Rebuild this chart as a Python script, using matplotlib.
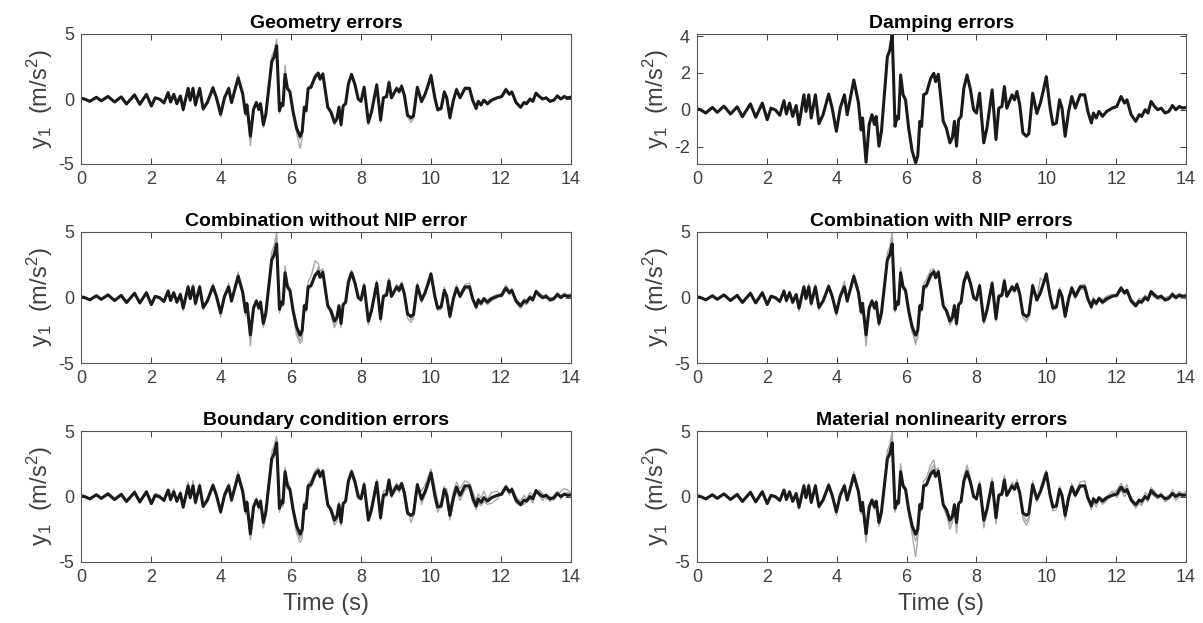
import numpy as np
import matplotlib
matplotlib.use("Agg")
import matplotlib.pyplot as plt

plt.rcParams['font.family'] = ['Liberation Sans', 'DejaVu Sans']
plt.rcParams['mathtext.fontset'] = 'custom'
plt.rcParams['mathtext.rm'] = 'Liberation Sans'
plt.rcParams['mathtext.it'] = 'Liberation Sans:italic'
plt.rcParams['axes.unicode_minus'] = False

# time stamps (s)
t = [0.00, 0.10, 0.25, 0.44, 0.58, 0.77, 0.96, 1.15, 1.30, 1.53,
     1.68, 1.87, 2.01, 2.12, 2.25, 2.37, 2.49, 2.56, 2.65, 2.74,
     2.84, 2.92, 3.06, 3.12, 3.20, 3.27, 3.39, 3.49, 3.61, 3.77,
     3.87, 3.99, 4.10, 4.22, 4.30, 4.49, 4.62, 4.70, 4.74, 4.84,
     4.93, 5.01, 5.08, 5.13, 5.21, 5.28, 5.35, 5.45, 5.52, 5.59,
     5.67, 5.73, 5.77, 5.83, 5.90, 5.97, 6.06, 6.16, 6.26, 6.32,
     6.38, 6.43, 6.49, 6.57, 6.69, 6.78, 6.83, 6.91, 7.05, 7.14,
     7.24, 7.31, 7.37, 7.43, 7.49, 7.56, 7.64, 7.73, 7.83, 7.92,
     8.00, 8.09, 8.21, 8.30, 8.45, 8.56, 8.64, 8.73, 8.80, 8.87,
     9.02, 9.09, 9.16, 9.24, 9.33, 9.43, 9.50, 9.61, 9.73, 9.83,
     9.92, 10.00, 10.11, 10.19, 10.29, 10.38, 10.45, 10.54, 10.64, 10.73,
     10.83, 10.97, 11.10, 11.19, 11.29, 11.35, 11.43, 11.51, 11.61, 11.73,
     11.89, 12.02, 12.14, 12.24, 12.31, 12.43, 12.56, 12.66, 12.73, 12.83,
     12.91, 13.00, 13.10, 13.19, 13.29, 13.40, 13.51, 13.61, 13.71, 13.81,
     13.90, 14.00]

# measured response (black)
y_meas = [0.05, 0.00, -0.18, 0.13, -0.14, 0.20, -0.23, 0.16, -0.38, 0.32,
          -0.41, 0.36, -0.54, 0.09, -0.02, -0.30, 0.49, -0.23, 0.36, -0.36,
          0.23, -0.81, 0.81, -0.09, 0.81, -0.45, 0.81, -0.76, -0.27, 0.85,
          0.09, -1.17, 0.09, 0.81, -0.27, 1.62, 0.40, -1.10, -0.45, -2.85,
          -0.80, -0.27, -0.80, -0.36, -1.98, -1.20, 0.45, 2.88, 3.24, 4.09,
          -0.90, -0.36, -0.50, 1.89, 0.81, 0.54, -1.00, -2.25, -2.88, -2.50,
          -0.63, -0.90, 0.81, 0.90, 1.71, 1.98, 1.53, 1.93, -0.63, -1.00,
          -1.80, -1.53, -0.63, -1.98, -0.54, -0.36, 1.17, 1.89, 1.08, 0.00,
          -0.18, 0.90, -1.80, -1.00, 1.08, -1.62, 0.09, 0.18, 1.26, 0.09,
          0.81, 0.54, 0.99, 0.27, -1.26, -1.44, -1.30, 0.90, -0.20, 0.36,
          1.08, 1.80, 0.09, -0.81, -0.72, 0.54, 0.09, -1.44, -0.09, 0.72,
          0.09, 0.81, 0.81, -0.09, -0.72, -0.18, -0.45, -0.09, -0.36, -0.09,
          0.09, 0.18, 0.72, 0.36, 0.54, -0.27, -0.63, -0.27, -0.36, 0.00,
          -0.18, 0.45, 0.18, 0.00, 0.09, -0.18, -0.09, 0.23, 0.00, 0.18,
          0.09, 0.12]

# model responses (grey), per panel
geo_a = [0.05, 0.02, -0.20, 0.15, -0.16, 0.22, -0.25, 0.20, -0.42, 0.36,
         -0.45, 0.40, -0.58, 0.12, 0.00, -0.35, 0.55, -0.28, 0.40, -0.42,
         0.28, -0.95, 0.90, -0.05, 0.95, -0.55, 0.90, -0.90, -0.30, 1.00,
         0.10, -1.40, 0.15, 0.95, -0.30, 1.90, 0.50, -1.30, -0.50, -3.60,
         -0.90, -0.20, -0.90, -0.30, -2.20, -1.30, 0.60, 3.30, 3.70, 4.60,
         -1.10, -0.30, -0.60, 2.60, 0.90, 0.60, -1.20, -2.60, -3.80, -3.00,
         -0.70, -1.00, 0.90, 1.10, 1.90, 2.10, 1.70, 2.00, -0.70, -1.10,
         -2.00, -1.70, -0.70, -2.10, -0.60, -0.40, 1.30, 2.00, 1.20, 0.05,
         -0.25, 1.00, -2.00, -1.10, 1.20, -1.80, 0.15, 0.25, 1.40, 0.05,
         0.95, 0.60, 1.10, 0.30, -1.40, -1.80, -1.50, 1.00, -0.30, 0.45,
         1.20, 1.95, 0.10, -0.95, -0.85, 0.65, 0.10, -1.55, -0.10, 0.85,
         0.10, 0.95, 0.90, -0.10, -0.85, -0.25, -0.55, -0.10, -0.50, -0.15,
         0.15, 0.25, 0.85, 0.40, 0.60, -0.35, -0.75, -0.30, -0.45, 0.05,
         -0.25, 0.50, 0.20, -0.05, 0.15, -0.25, -0.10, 0.35, 0.05, 0.30,
         0.10, 0.25]
geo_b = [0.08, -0.02, -0.15, 0.16, -0.12, 0.18, -0.20, 0.19, -0.33, 0.30,
         -0.36, 0.38, -0.48, 0.14, -0.05, -0.25, 0.45, -0.18, 0.40, -0.30,
         0.26, -0.70, 0.75, -0.15, 0.75, -0.40, 0.75, -0.65, -0.32, 0.78,
         0.15, -1.00, 0.02, 0.75, -0.20, 1.45, 0.30, -0.95, -0.40, -3.00,
         -0.70, -0.35, -0.70, -0.42, -1.80, -1.10, 0.35, 2.70, 3.40, 4.30,
         -0.80, -0.42, -0.45, 2.20, 0.75, 0.48, -0.90, -2.10, -3.10, -2.60,
         -0.55, -0.80, 0.70, 0.85, 1.60, 1.85, 1.45, 1.80, -0.55, -0.90,
         -1.65, -1.45, -0.55, -1.85, -0.48, -0.30, 1.05, 1.75, 1.00, 0.05,
         -0.12, 0.80, -1.65, -0.90, 1.00, -1.50, 0.05, 0.22, 1.15, 0.15,
         0.72, 0.60, 0.90, 0.30, -1.15, -1.60, -1.20, 0.80, -0.15, 0.30,
         1.00, 1.65, 0.15, -0.70, -0.65, 0.45, 0.15, -1.30, -0.05, 0.65,
         0.15, 0.75, 0.75, -0.05, -0.65, -0.12, -0.40, -0.05, -0.30, -0.05,
         0.05, 0.25, 0.65, 0.40, 0.50, -0.20, -0.55, -0.22, -0.30, 0.05,
         -0.12, 0.40, 0.22, 0.05, 0.05, -0.12, -0.02, 0.20, 0.05, 0.15,
         0.12, 0.20]
damp_a = [0.06, 0.02, -0.16, 0.15, -0.12, 0.22, -0.21, 0.18, -0.36, 0.34,
          -0.39, 0.38, -0.52, 0.11, 0.00, -0.28, 0.52, -0.21, 0.38, -0.34,
          0.25, -0.78, 0.84, -0.07, 0.84, -0.42, 0.84, -0.73, -0.25, 0.88,
          0.11, -1.12, 0.11, 0.84, -0.25, 1.66, 0.42, -1.06, -0.42, -2.80,
          -0.76, -0.24, -0.76, -0.33, -1.92, -1.15, 0.48, 2.90, 3.26, 4.05,
          -0.86, -0.33, -0.46, 1.93, 0.84, 0.57, -0.96, -2.20, -2.85, -2.46,
          -0.60, -0.86, 0.84, 0.93, 1.75, 2.02, 1.57, 1.97, -0.60, -0.96,
          -1.76, -1.49, -0.60, -1.94, -0.51, -0.33, 1.20, 1.93, 1.12, 0.03,
          -0.15, 0.93, -1.76, -0.96, 1.12, -1.58, 0.12, 0.21, 1.30, 0.12,
          0.84, 0.57, 1.03, 0.30, -1.22, -1.48, -1.26, 0.94, -0.16, 0.40,
          1.12, 1.85, 0.12, -0.77, -0.68, 0.58, 0.12, -1.48, -0.05, 0.76,
          0.12, 0.85, 0.85, -0.05, -0.76, -0.14, -0.49, -0.05, -0.40, -0.05,
          0.12, 0.22, 0.76, 0.40, 0.58, -0.23, -0.67, -0.23, -0.40, 0.04,
          -0.14, 0.49, 0.22, 0.04, 0.13, -0.14, -0.05, 0.27, 0.04, 0.22,
          0.13, 0.16]
cwo_a = [0.05, 0.03, -0.22, 0.18, -0.18, 0.25, -0.28, 0.22, -0.45, 0.40,
         -0.50, 0.45, -0.62, 0.15, 0.05, -0.38, 0.60, -0.30, 0.45, -0.45,
         0.35, -1.00, 0.95, 0.00, 1.00, -0.60, 0.95, -0.95, -0.35, 1.05,
         0.15, -1.50, 0.20, 1.10, -0.25, 1.95, 0.55, -1.40, -0.60, -3.70,
         -1.00, -0.15, -0.95, -0.25, -2.30, -1.40, 0.70, 3.50, 4.00, 5.00,
         -1.20, -0.25, -0.70, 2.40, 1.00, 0.70, -1.30, -2.90, -3.50, -3.30,
         -0.80, -0.70, 1.20, 1.60, 2.80, 2.60, 2.00, 2.20, -0.50, -1.30,
         -2.30, -1.90, -0.80, -2.30, -0.70, -0.30, 1.45, 2.10, 1.30, 0.20,
         -0.30, 1.10, -2.10, -1.20, 1.30, -1.90, 0.20, 0.35, 1.50, 0.00,
         1.00, 0.75, 1.20, 0.40, -1.60, -1.90, -1.60, 1.10, -0.40, 0.55,
         1.40, 1.90, 0.30, -1.00, -0.90, 0.80, 0.20, -1.60, 0.00, 0.95,
         0.25, 1.00, 1.10, 0.10, -0.90, -0.40, -0.60, -0.20, -0.55, -0.25,
         0.00, 0.35, 0.95, 0.50, 0.70, -0.40, -0.85, -0.45, -0.55, -0.10,
         -0.30, 0.60, 0.35, 0.10, 0.25, -0.30, -0.20, 0.40, 0.10, 0.35,
         0.20, 0.30]
cwo_b = [0.06, -0.03, -0.15, 0.10, -0.10, 0.17, -0.19, 0.13, -0.32, 0.28,
         -0.36, 0.30, -0.46, 0.05, -0.08, -0.25, 0.40, -0.20, 0.30, -0.30,
         0.18, -0.70, 0.70, -0.15, 0.70, -0.38, 0.72, -0.68, -0.20, 0.75,
         0.05, -1.05, 0.00, 0.70, -0.35, 1.50, 0.30, -1.05, -0.40, -3.20,
         -0.70, -0.35, -0.65, -0.45, -1.85, -1.05, 0.35, 3.10, 3.60, 4.70,
         -0.70, -0.45, -0.40, 2.10, 0.70, 0.45, -0.90, -2.60, -3.30, -2.90,
         -0.50, -1.10, 0.65, 0.75, 1.55, 2.30, 1.70, 2.05, -0.75, -1.15,
         -2.00, -1.65, -0.55, -2.10, -0.45, -0.45, 1.00, 1.80, 0.95, -0.10,
         -0.10, 0.75, -1.60, -0.85, 0.95, -1.45, 0.00, 0.10, 1.10, 0.20,
         0.65, 0.40, 0.85, 0.15, -1.10, -1.70, -1.40, 0.75, -0.05, 0.25,
         0.95, 1.70, -0.05, -0.65, -0.60, 0.40, 0.00, -1.30, -0.20, 0.55,
         -0.05, 0.65, 0.70, -0.25, -0.60, -0.05, -0.35, 0.00, -0.20, 0.05,
         0.20, 0.05, 0.60, 0.25, 0.45, -0.15, -0.50, -0.10, -0.20, 0.15,
         -0.05, 0.30, 0.05, -0.10, -0.05, -0.05, 0.05, 0.10, -0.10, 0.10,
         0.00, 0.05]
cwn_a = [0.04, 0.04, -0.20, 0.20, -0.10, 0.24, -0.30, 0.25, -0.40, 0.42,
         -0.45, 0.45, -0.60, 0.18, 0.02, -0.40, 0.60, -0.35, 0.50, -0.50,
         0.30, -1.05, 0.95, -0.05, 1.05, -0.65, 1.00, -0.95, -0.25, 1.00,
         0.20, -1.40, 0.25, 1.25, -0.20, 1.85, 0.50, -1.30, -0.65, -3.70,
         -0.95, -0.15, -0.95, -0.20, -2.20, -1.35, 0.65, 3.40, 3.90, 5.00,
         -1.10, -0.20, -0.65, 2.30, 0.95, 0.65, -1.25, -2.70, -3.30, -3.10,
         -0.75, -0.75, 1.05, 1.40, 2.10, 2.20, 1.70, 2.10, -0.60, -1.20,
         -2.10, -1.80, -0.75, -2.20, -0.65, -0.25, 1.35, 2.05, 1.25, 0.15,
         -0.25, 1.05, -2.00, -1.15, 1.25, -1.80, 0.20, 0.30, 1.45, 0.05,
         0.95, 0.70, 1.15, 0.40, -1.50, -1.85, -1.50, 1.05, -0.20, 1.50,
         1.20, 1.85, 0.30, -0.95, -0.85, 0.75, 0.20, -1.55, 0.05, 0.90,
         0.20, 0.95, 1.00, 0.05, -0.85, -0.35, -0.60, -0.15, -0.50, -0.25,
         0.05, 0.30, 0.85, 0.45, 0.65, -0.35, -0.75, -0.40, -0.50, -0.05,
         -0.30, 0.55, 0.30, 0.05, 0.20, -0.30, -0.15, 0.40, 0.05, 0.30,
         0.15, 0.25]
cwn_b = [0.05, -0.02, -0.14, 0.11, -0.16, 0.16, -0.18, 0.12, -0.30, 0.26,
         -0.34, 0.30, -0.44, 0.04, -0.10, -0.22, 0.38, -0.18, 0.28, -0.28,
         0.16, -0.65, 0.68, -0.18, 0.68, -0.35, 0.70, -0.60, -0.30, 0.70,
         0.02, -1.00, -0.05, 0.65, -0.35, 1.45, 0.25, -0.95, -0.35, -3.10,
         -0.65, -0.40, -0.60, -0.50, -1.75, -1.00, 0.30, 3.00, 3.50, 4.50,
         -0.65, -0.50, -0.35, 1.95, 0.65, 0.40, -0.85, -2.40, -3.60, -2.80,
         -0.50, -1.05, 0.60, 0.70, 1.45, 1.85, 1.40, 1.75, -0.75, -1.10,
         -1.90, -1.55, -0.50, -2.05, -0.40, -0.50, 0.95, 1.70, 0.90, -0.15,
         -0.05, 0.70, -1.55, -0.80, 0.90, -1.40, -0.05, 0.05, 1.05, 0.25,
         0.60, 0.35, 0.80, 0.10, -1.00, -1.65, -1.35, 0.70, 0.00, 0.20,
         0.90, 1.60, -0.10, -0.60, -0.55, 0.35, -0.05, -1.25, -0.25, 0.50,
         -0.10, 0.60, 0.65, -0.30, -0.55, 0.00, -0.30, 0.05, -0.15, 0.10,
         0.25, 0.00, 0.55, 0.20, 0.40, -0.10, -0.45, -0.05, -0.15, 0.20,
         0.00, 0.25, 0.00, -0.15, -0.10, 0.00, 0.10, 0.05, -0.15, 0.05,
         -0.05, 0.00]
bc_a = [0.05, 0.05, -0.15, 0.20, -0.20, 0.30, -0.15, 0.25, -0.45, 0.45,
        -0.35, 0.30, -0.45, 0.25, 0.10, -0.40, 0.55, -0.10, 0.60, -0.40,
        0.40, -0.90, 1.10, 0.05, 0.90, -0.60, 1.00, -0.80, -0.10, 1.00,
        0.25, -1.30, 0.30, 1.00, -0.10, 1.90, 0.55, -1.40, -0.70, -3.30,
        -1.00, -0.10, -1.00, -0.20, -2.40, -1.50, 0.70, 3.40, 3.90, 4.60,
        -1.20, -0.20, -0.80, 2.20, 1.10, 0.70, -1.30, -2.80, -3.50, -3.20,
        -0.90, -0.70, 1.00, 1.20, 2.00, 2.20, 1.80, 2.10, -0.50, -1.20,
        -2.20, -1.90, -0.90, -2.10, -0.70, -0.20, 1.40, 2.05, 1.40, 0.30,
        -0.20, 1.10, -1.60, -0.70, 1.30, -1.40, 0.40, 0.50, 1.30, 0.40,
        1.00, 0.80, 1.10, 0.50, -0.90, -2.00, -1.40, 0.60, 0.40, 0.90,
        1.50, 2.10, 0.70, -0.30, -0.90, 0.20, 0.60, -1.00, 0.40, 1.10,
        0.60, 1.20, 1.00, 0.40, -0.30, 0.20, -0.10, 0.40, -0.20, 0.30,
        0.40, 0.10, 0.60, 0.10, 0.70, 0.00, -0.40, 0.10, -0.20, 0.30,
        0.10, 0.20, 0.50, 0.20, -0.20, 0.00, -0.30, 0.10, 0.40, 0.60,
        0.50, 0.30]
bc_b = [0.04, -0.05, -0.25, 0.10, -0.10, 0.12, -0.30, 0.10, -0.30, 0.20,
        -0.50, 0.40, -0.60, 0.00, -0.10, -0.20, 0.40, -0.35, 0.25, -0.30,
        0.10, -0.70, 0.60, -0.20, 1.20, -0.35, 0.60, -0.70, -0.45, 0.80,
        -0.05, -1.10, -0.10, 0.70, -0.40, 1.40, 0.20, -0.90, -0.30, -2.90,
        -0.60, -0.40, -0.60, -0.50, -2.30, -1.00, 0.20, 2.90, 3.70, 4.40,
        -0.60, -0.50, -0.30, 2.00, 0.60, 0.40, -0.80, -2.50, -3.20, -2.90,
        -0.40, -1.00, 0.60, 0.70, 1.50, 1.90, 1.40, 1.85, -0.80, -1.00,
        -2.00, -1.60, -0.40, -2.20, -0.40, -0.50, 1.00, 1.70, 0.90, -0.20,
        -0.10, 0.75, -1.90, -1.20, 0.90, -1.80, -0.10, 0.00, 1.10, -0.10,
        0.60, 0.30, 0.80, 0.00, -1.40, -1.50, -1.50, 1.00, -0.60, 0.10,
        0.80, 1.50, -0.30, -1.20, -0.70, 0.80, -0.20, -1.80, -0.40, 0.40,
        -0.30, 0.50, 0.70, -0.40, -1.00, -0.50, -0.70, -0.40, -0.60, -0.50,
        -0.20, 0.30, 0.90, 0.50, 0.30, -0.50, -0.70, -0.60, -0.40, -0.20,
        -0.50, 0.50, 0.00, -0.30, 0.20, -0.40, 0.10, 0.40, -0.20, 0.20,
        0.30, 0.20]
mat_a = [0.05, 0.02, -0.20, 0.16, -0.16, 0.24, -0.26, 0.20, -0.42, 0.38,
         -0.46, 0.42, -0.60, 0.14, 0.02, -0.36, 0.56, -0.28, 0.44, -0.44,
         0.32, -0.95, 0.95, -0.05, 1.00, -0.55, 0.95, -0.90, -0.30, 1.05,
         0.15, -1.45, 0.20, 1.00, -0.30, 1.90, 0.55, -1.35, -0.55, -3.50,
         -1.00, -0.20, -1.00, -0.30, -2.30, -1.40, 0.60, 3.50, 4.00, 5.00,
         -1.20, -0.30, -0.70, 2.50, 1.00, 0.70, -1.30, -2.90, -4.60, -3.20,
         -0.80, -0.90, 1.20, 1.40, 2.40, 2.80, 2.00, 2.20, -0.80, -1.40,
         -2.50, -2.00, -0.80, -2.80, -0.70, -0.30, 1.50, 2.40, 1.40, 0.10,
         -0.30, 1.20, -2.40, -1.30, 1.40, -2.10, 0.20, 0.40, 1.60, 0.00,
         1.10, 0.80, 1.30, 0.40, -1.70, -2.20, -1.80, 1.20, -0.40, 0.60,
         1.50, 2.00, 0.30, -1.10, -1.00, 0.80, 0.20, -1.80, 0.00, 1.00,
         0.30, 1.10, 1.20, 0.10, -1.00, -0.40, -0.80, -0.20, -0.60, -0.30,
         0.20, 0.50, 1.00, 0.60, 0.90, -0.40, -0.90, -0.50, -0.70, -0.10,
         -0.40, 0.70, 0.40, 0.00, 0.30, -0.40, -0.20, 0.50, 0.10, 0.40,
         0.20, 0.40]
mat_b = [0.06, -0.02, -0.14, 0.10, -0.12, 0.16, -0.18, 0.12, -0.32, 0.26,
         -0.34, 0.30, -0.46, 0.05, -0.08, -0.24, 0.42, -0.18, 0.30, -0.30,
         0.18, -0.70, 0.70, -0.15, 0.70, -0.38, 0.72, -0.66, -0.22, 0.76,
         0.05, -1.00, 0.00, 0.70, -0.32, 1.45, 0.30, -1.00, -0.40, -3.10,
         -0.70, -0.35, -0.65, -0.45, -1.80, -1.05, 0.35, 3.10, 3.60, 4.60,
         -0.70, -0.45, -0.40, 2.20, 0.70, 0.45, -0.90, -2.50, -3.40, -2.80,
         -0.50, -1.10, 0.70, 0.80, 2.00, 2.40, 1.70, 2.00, -0.70, -1.20,
         -2.10, -1.80, -0.55, -2.40, -0.45, -0.45, 1.30, 2.10, 1.10, -0.10,
         -0.10, 0.90, -2.00, -1.00, 1.10, -1.80, 0.00, 0.10, 1.40, 0.20,
         0.90, 0.50, 1.10, 0.20, -1.40, -1.90, -1.60, 1.00, -0.10, 0.30,
         1.20, 1.70, -0.05, -0.70, -0.60, 0.40, 0.00, -1.50, -0.20, 0.60,
         -0.05, 0.70, 0.80, -0.25, -0.70, -0.05, -0.35, 0.00, -0.20, 0.00,
         0.40, -0.10, 0.50, 0.00, 0.30, 0.00, -0.70, -0.20, -0.60, 0.30,
         0.10, 0.20, 0.00, -0.20, 0.10, -0.10, 0.10, 0.20, -0.30, 0.00,
         0.10, 0.10]

titles = ["Geometry errors", "Damping errors",
          "Combination without NIP error", "Combination with NIP errors",
          "Boundary condition errors", "Material nonlinearity errors"]
greys = [[geo_a, geo_b], [damp_a],
         [cwo_a, cwo_b], [cwn_a, cwn_b],
         [bc_a, bc_b], [mat_a, mat_b]]
xticks = [0, 2, 4, 6, 8, 10, 12, 14]

fig = plt.figure(figsize=(12.03, 6.23), dpi=100)

# axes boxes in pixels (left, top, right, bottom)
cols = [(81, 571), (697, 1186)]
rows = [(34, 164), (232, 363), (431, 562)]
W, H = 1203, 623
txt = '#404040'

for i in range(6):
    r, c = divmod(i, 2)
    x0, x1 = cols[c]
    y0, y1 = rows[r]
    ax = fig.add_axes([x0 / W, 1 - y1 / H, (x1 - x0) / W, (y1 - y0) / H])
    for g in greys[i]:
        ax.plot(t, g, color='#a8a8a8', lw=1.0)
    ax.plot(t, y_meas, color='#1a1a1a', lw=2.2)
    ax.set_xlim(0, 14)
    ax.set_xticks(xticks)
    if i == 1:
        ax.set_ylim(-2.95, 4.12)
        ax.set_yticks([-2, 0, 2, 4])
    else:
        ax.set_ylim(-5, 5)
        ax.set_yticks([-5, 0, 5])
    ax.tick_params(direction='in', top=True, right=True, length=4,
                   width=0.7, color='#404040', labelsize=13,
                   labelcolor=txt, pad=5)
    for s in ax.spines.values():
        s.set_color('#555555')
        s.set_linewidth(0.8)
    ax.set_title(titles[i], fontsize=14, fontweight='bold', pad=4)
    ax.set_ylabel(r'y$_1$  (m/s$^2$)', fontsize=17, color=txt, labelpad=2)
    if r == 2:
        ax.set_xlabel('Time (s)', fontsize=17, color=txt, labelpad=5)

fig.savefig('out.png', dpi=100)
